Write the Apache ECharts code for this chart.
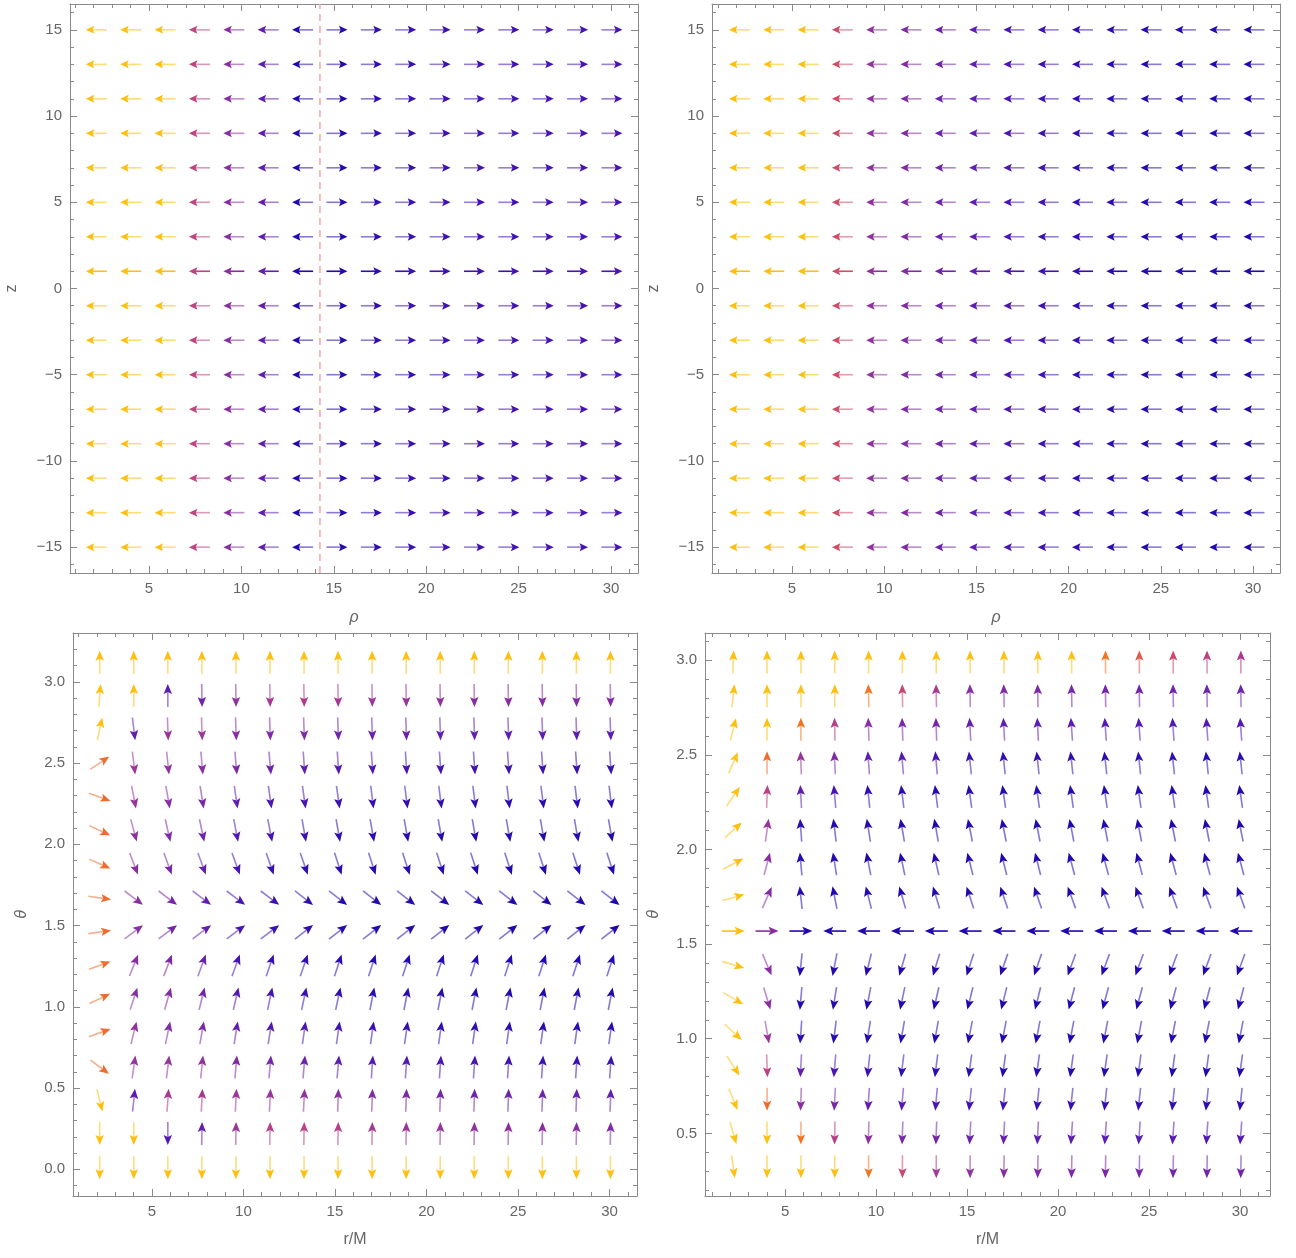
<!DOCTYPE html>
<html><head><meta charset="utf-8">
<script src="https://cdn.jsdelivr.net/npm/echarts@6/dist/echarts.min.js"></script>
<style>html,body{margin:0;padding:0;background:#fff}#c{width:1296px;height:1258px}</style>
</head><body><div id="c"></div>
<script>
// ================= DATA =================
// arrow columns (rho or r/M), shared by all four panels
const gridCols = [2.15,4.01,5.87,7.73,9.59,11.45,13.31,15.17,17.03,18.89,20.75,22.61,24.47,26.33,28.19,30.05];
// top panels: z rows
const zRows = [-15,-13,-11,-9,-7,-5,-3,-1,1,3,5,7,9,11,13,15];
const zSolidRow = 1;            // row drawn with solid shafts
const lightRingRho = 14.25;     // dashed vertical line (top-left)
// top-left: direction (deg) and magnitude level per column (same on every row)
const tlAngle = [180,180,180,180,180,180,180,0,0,0,0,0,0,0,0,0];
const tlLevel = [1,1,1,0.63,0.45,0.3,0.05,0.06,0.12,0.15,0.17,0.18,0.19,0.2,0.2,0.21];
// top-right
const trAngle = [180,180,180,180,180,180,180,180,180,180,180,180,180,180,180,180];
const trLevel = [1,1,1,0.69,0.48,0.42,0.35,0.3,0.22,0.18,0.13,0.1,0.08,0.07,0.06,0.05];

// bottom-left: theta rows (bottom -> top)
const blTheta = [0.01,0.22,0.425,0.63,0.84,1.05,1.255,1.46,1.67,1.88,2.085,2.29,2.50,2.71,2.915,3.12];
const blAngle = [
 [-90,-90,-90,-90,-90,-90,-90,-90,-90,-90,-90,-90,-90,-90,-90,-90],
 [-90,-90,-90,89,89,89,89,89,89,89,89,89,89,89,89,89],
 [-76,84,86,87,87,87,87,88,88,88,88,88,88,88,88,88],
 [-36,82,83,84,85,85,85,85,86,86,86,86,86,86,86,86],
 [20,76,78,80,81,81,82,82,82,82,82,82,82,82,82,82],
 [25,72,74,76,77,78,78,78,79,79,79,79,79,79,79,79],
 [20,68,69,70,70,71,71,72,72,72,72,72,72,72,72,72],
 [8,37,37,37,37,37,38,38,38,38,38,38,38,38,38,38],
 [-8,-37,-37,-37,-37,-37,-38,-38,-38,-38,-38,-38,-38,-38,-38,-38],
 [-24,-69,-70,-70,-70,-71,-71,-72,-72,-72,-72,-72,-72,-72,-72,-72],
 [-25,-75,-77,-78,-79,-79,-80,-80,-80,-80,-80,-80,-80,-80,-80,-80],
 [-20,-79,-80,-81,-82,-82,-82,-82,-83,-83,-83,-83,-83,-83,-83,-83],
 [34,-83,-84,-85,-85,-85,-86,-86,-86,-86,-86,-86,-86,-86,-86,-86],
 [78,-83,-88,-88,-88,-88,-88,-88,-88,-88,-88,-88,-88,-88,-88,-88],
 [86,90,90,-89,-89,-89,-89,-89,-89,-89,-89,-89,-89,-89,-89,-89],
 [90,90,90,90,90,90,90,90,90,90,90,90,90,90,90,90]
];
const blLevel = [
 [1,1,1,1,1,1,1,1,1,1,1,1,1,1,1,1],
 [1,1,0.25,0.32,0.52,0.6,0.62,0.6,0.55,0.52,0.5,0.48,0.46,0.45,0.44,0.42],
 [1,0.28,0.55,0.55,0.52,0.5,0.48,0.45,0.42,0.4,0.38,0.36,0.35,0.34,0.33,0.32],
 [0.8,0.5,0.5,0.48,0.42,0.38,0.34,0.3,0.26,0.24,0.22,0.2,0.18,0.17,0.16,0.15],
 [0.8,0.48,0.44,0.4,0.3,0.25,0.22,0.18,0.15,0.13,0.12,0.11,0.1,0.1,0.09,0.09],
 [0.8,0.45,0.42,0.36,0.25,0.2,0.15,0.12,0.1,0.09,0.08,0.07,0.07,0.06,0.06,0.06],
 [0.8,0.45,0.4,0.33,0.2,0.15,0.12,0.1,0.08,0.07,0.06,0.05,0.05,0.05,0.05,0.05],
 [0.8,0.45,0.38,0.3,0.2,0.15,0.12,0.08,0.07,0.06,0.05,0.05,0.04,0.04,0.04,0.04],
 [0.8,0.45,0.38,0.3,0.2,0.15,0.12,0.08,0.07,0.06,0.05,0.05,0.04,0.04,0.04,0.04],
 [0.8,0.45,0.4,0.3,0.2,0.15,0.12,0.1,0.08,0.07,0.06,0.05,0.05,0.05,0.05,0.05],
 [0.8,0.47,0.42,0.35,0.25,0.2,0.15,0.12,0.1,0.09,0.08,0.07,0.07,0.06,0.06,0.06],
 [0.8,0.5,0.45,0.4,0.3,0.22,0.2,0.15,0.14,0.13,0.12,0.11,0.1,0.1,0.09,0.09],
 [0.8,0.52,0.48,0.45,0.4,0.35,0.3,0.25,0.22,0.2,0.19,0.18,0.17,0.16,0.15,0.15],
 [1,0.3,0.5,0.52,0.45,0.42,0.42,0.36,0.34,0.33,0.32,0.31,0.3,0.3,0.29,0.28],
 [1,1,0.28,0.35,0.48,0.55,0.57,0.55,0.52,0.5,0.48,0.46,0.45,0.44,0.43,0.42],
 [1,1,1,1,1,1,1,1,1,1,1,1,1,1,1,1]
];

// bottom-right: theta rows (bottom -> top)
const brTheta = [0.324,0.502,0.680,0.857,1.035,1.213,1.391,1.569,1.746,1.924,2.102,2.280,2.458,2.635,2.813,2.991];
const brSolidRow = 7;
const brAngle = [
 [-82,-90,-90,-90,-90,-90,-90,-90,-91,-91,-91,-91,-91,-91,-91,-91],
 [-74,-90,-90,-91,-92,-92,-92,-93,-93,-93,-94,-94,-94,-94,-94,-94],
 [-68,-90,-92,-93,-94,-95,-95,-96,-96,-96,-96,-96,-96,-96,-96,-96],
 [-57,-88,-93,-95,-96,-97,-97,-98,-98,-98,-98,-98,-98,-98,-98,-98],
 [-43,-80,-94,-97,-99,-100,-100,-101,-101,-101,-101,-101,-101,-101,-101,-101],
 [-30,-73,-95,-99,-101,-102,-103,-104,-104,-104,-105,-105,-105,-105,-105,-105],
 [-17,-67,-96,-101,-104,-106,-107,-108,-109,-109,-110,-110,-110,-110,-110,-110],
 [0,0,0,180,180,180,180,180,180,180,180,180,180,180,180,180],
 [15,66,96,101,104,106,107,108,109,109,110,110,110,110,110,110],
 [28,75,95,99,101,102,103,104,104,104,105,105,105,105,105,105],
 [42,82,94,97,99,100,100,101,101,101,101,101,101,101,101,101],
 [55,88,93,95,96,97,97,98,98,98,98,98,98,98,98,98],
 [66,90,92,93,94,95,95,96,96,96,96,96,96,96,96,96],
 [76,90,90,91,92,92,92,93,93,93,94,94,94,94,94,94],
 [84,90,90,90,91,91,91,91,91,91,91,91,91,91,91,91],
 [88,90,90,90,90,90,90,90,90,90,90,90,90,90,90,90]
];
const brLevel = [
 [1,1,1,1,0.82,0.66,0.55,0.48,0.44,0.42,0.41,0.4,0.39,0.38,0.37,0.36],
 [1,1,0.82,0.6,0.45,0.4,0.37,0.34,0.32,0.3,0.29,0.28,0.27,0.26,0.25,0.25],
 [1,0.8,0.45,0.4,0.3,0.25,0.22,0.18,0.16,0.15,0.14,0.13,0.12,0.12,0.11,0.11],
 [1,0.62,0.3,0.22,0.15,0.12,0.1,0.08,0.07,0.07,0.06,0.06,0.06,0.05,0.05,0.05],
 [1,0.5,0.1,0.08,0.07,0.06,0.05,0.05,0.04,0.04,0.04,0.04,0.04,0.04,0.04,0.04],
 [1,0.45,0.08,0.06,0.05,0.05,0.04,0.04,0.04,0.04,0.04,0.04,0.04,0.04,0.04,0.04],
 [1,0.45,0.07,0.05,0.05,0.04,0.04,0.04,0.04,0.04,0.04,0.04,0.04,0.04,0.04,0.04],
 [1,0.45,0.05,0.04,0.04,0.03,0.03,0.03,0.03,0.03,0.03,0.03,0.03,0.03,0.03,0.03],
 [1,0.43,0.06,0.05,0.05,0.04,0.04,0.04,0.04,0.04,0.04,0.04,0.04,0.04,0.04,0.04],
 [1,0.45,0.07,0.06,0.05,0.05,0.04,0.04,0.04,0.04,0.04,0.04,0.04,0.04,0.04,0.04],
 [1,0.5,0.1,0.08,0.07,0.06,0.05,0.05,0.04,0.04,0.04,0.04,0.04,0.04,0.04,0.04],
 [1,0.62,0.3,0.2,0.12,0.1,0.08,0.08,0.07,0.07,0.06,0.06,0.06,0.05,0.05,0.05],
 [1,0.8,0.5,0.42,0.3,0.25,0.2,0.15,0.14,0.13,0.12,0.12,0.11,0.11,0.1,0.1],
 [1,1,0.82,0.6,0.45,0.4,0.38,0.32,0.3,0.29,0.28,0.27,0.26,0.25,0.25,0.24],
 [1,1,1,1,0.82,0.65,0.55,0.45,0.42,0.4,0.39,0.38,0.37,0.36,0.35,0.35],
 [1,1,1,1,1,1,1,1,1,1,1,0.82,0.75,0.68,0.62,0.56]
];

// tick labels
const xMajorTicks = [5,10,15,20,25,30];
const zMajorTicks = [-15,-10,-5,0,5,10,15];
const blThetaTicks = [0,0.5,1,1.5,2,2.5,3];
const brThetaTicks = [0.5,1,1.5,2,2.5,3];

// ================= STYLE / HELPERS =================
const frameCol = '#8a8a8a';
const labelCol = '#666666';
const FONT = 'Liberation Sans, Arial, sans-serif';
const stops = [[0,'#1a06aa'],[0.1,'#2c0cb0'],[0.2,'#4614b2'],[0.3,'#601eae'],[0.4,'#7a28a6'],[0.5,'#96349a'],
  [0.6,'#b4408a'],[0.68,'#cc4a6c'],[0.75,'#e25a4a'],[0.82,'#f07424'],[0.9,'#f89a14'],[1,'#fdbf10']];
function hex2rgb(h){return [parseInt(h.substr(1,2),16),parseInt(h.substr(3,2),16),parseInt(h.substr(5,2),16)];}
function cmap(t){
  t=Math.max(0,Math.min(1,t));
  for(let i=1;i<stops.length;i++){
    if(t<=stops[i][0]){
      const a=stops[i-1],b=stops[i],f=(t-a[0])/(b[0]-a[0]);
      const ca=hex2rgb(a[1]),cb=hex2rgb(b[1]);
      return 'rgb('+ca.map((v,k)=>Math.round(v+(cb[k]-v)*f)).join(',')+')';
    }
  }
  return stops[stops.length-1][1];
}
function minorList(lo,hi,step,majors){
  const out=[];
  for(let v=Math.ceil(lo/step-1e-9);v*step<=hi+1e-9;v++){
    const val=Math.round(v*step*1000)/1000;
    if(!majors.some(m=>Math.abs(m-val)<1e-6)) out.push(val);
  }
  return out;
}
function arrowRender(L, head, halfW){
  return function(params, api){
    const p = api.coord([api.value(0), api.value(1)]);
    const a = api.value(2)*Math.PI/180;
    const ux = Math.cos(a), uy = -Math.sin(a);
    const col = cmap(api.value(3));
    const solid = api.value(4);
    const tx=p[0]-ux*L/2, ty=p[1]-uy*L/2, hx=p[0]+ux*L/2, hy=p[1]+uy*L/2;
    const bx=hx-ux*head, by=hy-uy*head, nx=-uy, ny=ux;
    return {type:'group', children:[
      {type:'line', shape:{x1:tx,y1:ty,x2:bx+ux*2,y2:by+uy*2}, style:{stroke:col,lineWidth:1.6,opacity:solid?1:0.55}},
      {type:'polygon', shape:{points:[[hx,hy],[bx+nx*halfW,by+ny*halfW],[bx+ux*head*0.2,by+uy*head*0.2],[bx-nx*halfW,by-ny*halfW]]}, style:{fill:col}}
    ]};
  };
}
function buildRowsUniform(rows, angle, level, solidVal){
  const d=[];
  rows.forEach(y=>gridCols.forEach((x,c)=>d.push([x,y,angle[c],level[c],y===solidVal?1:0])));
  return d;
}
function buildGrid(rows, angle, level, solidIdx){
  const d=[];
  rows.forEach((y,k)=>gridCols.forEach((x,c)=>d.push([x,y,angle[k][c],level[k][c],k===solidIdx?1:0])));
  return d;
}
const fmtNum = v => (v<0?'\u2212':'')+Math.abs(v);
const fmt1 = v => v.toFixed(1);

const xAxes=[], yAxes=[];
const lineOn = {show:true,onZero:false,lineStyle:{color:frameCol,width:1}};
const lineOff = {show:false,onZero:false};
function addX(g,min,max,majors,minors,name,nameGap,italic){
  const base={type:'value',gridIndex:g,min,max,splitLine:{show:false}};
  xAxes.push({...base,position:'bottom',axisLine:lineOn,
    axisTick:{show:true,inside:true,length:7,customValues:majors,lineStyle:{color:frameCol}},
    axisLabel:{show:true,customValues:majors,color:labelCol,fontSize:15,fontFamily:FONT,margin:8,formatter:fmtNum},
    name,nameLocation:'middle',nameGap,nameTextStyle:{color:labelCol,fontSize:16,fontFamily:FONT,fontStyle:italic?'italic':'normal'}});
  xAxes.push({...base,position:'bottom',axisLine:lineOff,axisTick:{show:true,inside:true,length:4,customValues:minors,lineStyle:{color:frameCol}},axisLabel:{show:false}});
  xAxes.push({...base,position:'top',axisLine:lineOn,axisTick:{show:true,inside:true,length:7,customValues:majors,lineStyle:{color:frameCol}},axisLabel:{show:false}});
  xAxes.push({...base,position:'top',axisLine:lineOff,axisTick:{show:true,inside:true,length:4,customValues:minors,lineStyle:{color:frameCol}},axisLabel:{show:false}});
}
function addY(g,min,max,majors,minors,name,nameGap,italic,fmt){
  const base={type:'value',gridIndex:g,min,max,splitLine:{show:false}};
  yAxes.push({...base,position:'left',axisLine:lineOn,
    axisTick:{show:true,inside:true,length:7,customValues:majors,lineStyle:{color:frameCol}},
    axisLabel:{show:true,customValues:majors,color:labelCol,fontSize:15,fontFamily:FONT,margin:8,formatter:fmt},
    name,nameLocation:'middle',nameGap,nameRotate:90,nameTextStyle:{color:labelCol,fontSize:16,fontFamily:FONT,fontStyle:italic?'italic':'normal'}});
  yAxes.push({...base,position:'left',axisLine:lineOff,axisTick:{show:true,inside:true,length:4,customValues:minors,lineStyle:{color:frameCol}},axisLabel:{show:false}});
  yAxes.push({...base,position:'right',axisLine:lineOn,axisTick:{show:true,inside:true,length:7,customValues:majors,lineStyle:{color:frameCol}},axisLabel:{show:false}});
  yAxes.push({...base,position:'right',axisLine:lineOff,axisTick:{show:true,inside:true,length:4,customValues:minors,lineStyle:{color:frameCol}},axisLabel:{show:false}});
}

const panels=[
  {grid:{left:70,top:4,width:568,height:569}, x:[0.725,31.46], y:[-16.5,16.5]},
  {grid:{left:712,top:4,width:568,height:569}, x:[0.66,31.46], y:[-16.5,16.5]},
  {grid:{left:73,top:633,width:564,height:563}, x:[0.69,31.5], y:[-0.164,3.30]},
  {grid:{left:705,top:633,width:565,height:563}, x:[0.6,31.65], y:[0.169,3.144]}
];
panels.forEach((p,g)=>{
  const xMin=minorList(p.x[0],p.x[1],1,xMajorTicks);
  addX(g,p.x[0],p.x[1],xMajorTicks,xMin, g<2?'\u03c1':'r/M', g<2?37:36, g<2);
  if(g<2){
    addY(g,p.y[0],p.y[1],zMajorTicks,minorList(p.y[0],p.y[1],1,zMajorTicks),'z',50,false,fmtNum);
  } else {
    const maj = g===2?blThetaTicks:brThetaTicks;
    addY(g,p.y[0],p.y[1],maj,minorList(p.y[0],p.y[1],0.1,maj),'\u03b8',43,true,fmt1);
  }
});

const series=[
  {type:'line',xAxisIndex:0,yAxisIndex:0,data:[[lightRingRho,-16.5],[lightRingRho,16.5]],symbol:'none',silent:true,
   lineStyle:{color:'#f9a9a9',width:1.6,type:[7,5]},z:1},
  {type:'custom',xAxisIndex:0,yAxisIndex:0,data:buildRowsUniform(zRows,tlAngle,tlLevel,zSolidRow),renderItem:arrowRender(21,8.5,4),silent:true,z:2},
  {type:'custom',xAxisIndex:4,yAxisIndex:4,data:buildRowsUniform(zRows,trAngle,trLevel,zSolidRow),renderItem:arrowRender(21,8.5,4),silent:true,z:2},
  {type:'custom',xAxisIndex:8,yAxisIndex:8,data:buildGrid(blTheta,blAngle,blLevel,-1),renderItem:arrowRender(23,10,4.2),silent:true,z:2},
  {type:'custom',xAxisIndex:12,yAxisIndex:12,data:buildGrid(brTheta,brAngle,brLevel,brSolidRow),renderItem:arrowRender(23,10,4.2),silent:true,z:2}
];

const chart=echarts.init(document.getElementById('c'),null,{renderer:'canvas'});
chart.setOption({
  animation:false,
  backgroundColor:'#ffffff',
  grid:panels.map(p=>({...p.grid,containLabel:false,outerBoundsMode:'none'})),
  xAxis:xAxes, yAxis:yAxes, series
});
</script></body></html>
